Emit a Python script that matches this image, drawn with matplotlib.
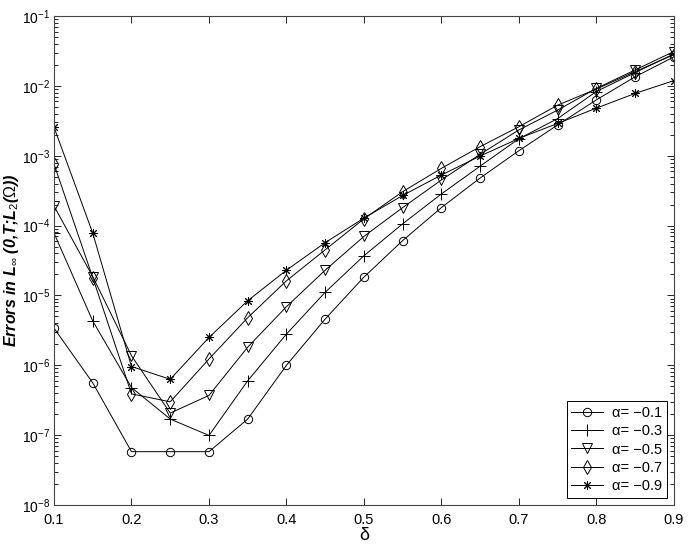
import matplotlib
matplotlib.use('Agg')
import matplotlib.pyplot as plt
import numpy as np

plt.rcParams['font.family'] = ['Liberation Sans', 'DejaVu Sans']
plt.rcParams['mathtext.fontset'] = 'custom'
plt.rcParams['mathtext.rm'] = 'Liberation Sans'
plt.rcParams['mathtext.it'] = 'Liberation Sans:italic'
plt.rcParams['mathtext.bf'] = 'Liberation Sans:bold'

# data
delta = [0.1, 0.15, 0.2, 0.25, 0.3, 0.35, 0.4, 0.45, 0.5, 0.55,
         0.6, 0.65, 0.7, 0.75, 0.8, 0.85, 0.9]

err_01 = [3.4e-6, 5.6e-7, 5.8e-8, 5.8e-8, 5.8e-8, 1.7e-7, 1.0e-6, 4.6e-6, 1.83e-5, 6.1e-5,
          1.81e-4, 4.8e-4, 1.18e-3, 2.76e-3, 6.3e-3, 1.35e-2, 2.6e-2]
err_03 = [7.8e-5, 4.3e-6, 4.8e-7, 1.7e-7, 9.9e-8, 6.0e-7, 2.8e-6, 1.11e-5, 3.7e-5, 1.06e-4,
          2.84e-4, 7.1e-4, 1.75e-3, 3.4e-3, 8.3e-3, 1.55e-2, 2.86e-2]
err_05 = [1.9e-4, 1.86e-5, 1.37e-6, 2.07e-7, 3.7e-7, 1.82e-6, 6.9e-6, 2.3e-5, 7.0e-5, 1.81e-4,
          4.5e-4, 1.05e-3, 2.34e-3, 4.5e-3, 9.2e-3, 1.69e-2, 3.1e-2]
err_07 = [7.6e-4, 1.8e-5, 3.9e-7, 3.0e-7, 1.23e-6, 4.8e-6, 1.62e-5, 4.5e-5, 1.25e-4, 3.06e-4,
          6.6e-4, 1.35e-3, 2.6e-3, 5.3e-3, 9.0e-3, 1.6e-2, 2.8e-2]
err_09 = [2.56e-3, 7.8e-5, 9.6e-7, 6.3e-7, 2.5e-6, 8.4e-6, 2.3e-5, 5.7e-5, 1.28e-4, 2.7e-4,
          5.3e-4, 9.9e-4, 1.77e-3, 2.9e-3, 4.8e-3, 7.8e-3, 1.19e-2]

labels = ['α= −0.1', 'α= −0.3', 'α= −0.5', 'α= −0.7', 'α= −0.9']
series = [err_01, err_03, err_05, err_07, err_09]
markers = ['o', '+', 'v', 'd', (8, 2, 0)]   # last one: matlab-like asterisk
msizes = [6, 8, 6.5, 7.5, 6.5]

fig = plt.figure(figsize=(6.89, 5.47), dpi=100)
ax = fig.add_axes([0.0784, 0.0768, 0.8996, 0.8939])

for y, lab, m, ms in zip(series, labels, markers, msizes):
    ax.semilogy(delta, y, color='black', linewidth=0.7, marker=m, markersize=ms,
                markerfacecolor='none', markeredgecolor='black', markeredgewidth=0.7,
                label=lab)

ax.set_xlim(0.1, 0.9)
ax.set_ylim(1e-8, 1e-1)
ax.set_xticks(np.arange(0.1, 0.91, 0.1))
ax.set_xticklabels(['0.1', '0.2', '0.3', '0.4', '0.5', '0.6', '0.7', '0.8', '0.9'])
ax.set_yticks([1e-8, 1e-7, 1e-6, 1e-5, 1e-4, 1e-3, 1e-2, 1e-1])

ax.tick_params(which='both', direction='in', top=True, right=True, labelsize=10.5, width=0.6)
ax.tick_params(axis='y', labelsize=10, pad=3)
ax.tick_params(axis='x', pad=6)
ax.tick_params(which='major', length=5)
ax.tick_params(which='minor', length=3)
ax.tick_params(axis='x', which='minor', top=False, bottom=False)
for t in ax.get_yticklabels():
    t.set_verticalalignment('center_baseline')
for s in ax.spines.values():
    s.set_linewidth(0.8)
    s.set_color('#444444')

ax.set_xlabel('δ', fontsize=13, labelpad=0)
ax.set_ylabel(r'Errors in L$_{\infty}$ (0,T;L$_2$($\Omega$))', fontsize=11.5,
              fontweight='bold', style='italic')
ax.yaxis.set_label_coords(-0.054, 0.5)

leg = ax.legend(loc='lower right', fontsize=10.5, fancybox=False, framealpha=1,
                edgecolor='black', handlelength=2.2, borderpad=0.3, labelspacing=0.3,
                handletextpad=0.6, borderaxespad=0.5)
leg.get_frame().set_linewidth(0.7)

fig.savefig('out.png', dpi=100)
